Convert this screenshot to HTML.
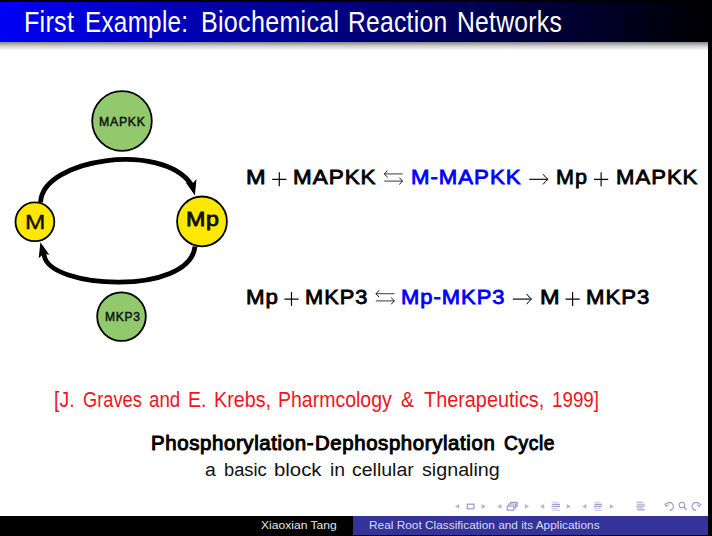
<!DOCTYPE html>
<html><head><meta charset="utf-8">
<style>
html,body{margin:0;padding:0;}
body{width:712px;height:536px;overflow:hidden;position:relative;background:#fff;font-family:"Liberation Sans",sans-serif;}
.w{position:absolute;z-index:2;white-space:nowrap;line-height:1;transform-origin:0 0;font-family:"Liberation Sans",sans-serif;}
#topblack{position:absolute;left:0;top:0;width:712px;height:3.4px;background:linear-gradient(to bottom,#000 0px,#000 1.6px,rgba(0,0,0,0) 3.4px);z-index:1;}
#titlebar{position:absolute;left:0;top:1.6px;width:712px;height:40.2px;z-index:1;background:linear-gradient(to right,#0000f5 0%,#000 100%);}
#shadow{position:absolute;left:0;top:41px;width:708px;height:9.5px;background:linear-gradient(to bottom,#858585 0px,#8a8a8a 1.2px,#cfcfcf 5px,#fff 9.5px);}
#rightblack{position:absolute;left:708px;top:0;width:4px;height:536px;background:#000;}
#foot1{position:absolute;left:0;top:516px;width:712px;height:20px;background:#000;}
#foot2{position:absolute;left:353px;top:516px;width:355px;height:18.6px;background:#333399;}
svg{position:absolute;left:0;top:0;}
</style></head>
<body>
<div id="topblack"></div>
<div id="titlebar"></div>
<div id="shadow"></div>
<div id="foot1"></div>
<div id="foot2"></div>

<svg width="712" height="536" viewBox="0 0 712 536">
  <g fill="none" stroke="#000" stroke-width="4.8">
    <path d="M40.6 202.5 C41.6 158.68, 162.32 141.14, 191.3 184.5 L193.5 187.8"/>
    <path d="M195 246.5 C189.61 295.76, 49.4 289.24, 44.2 255.5 L43.6 251.5"/>
  </g>
  <path d="M194.9 195.4 L196.5 179 L191.6 184.4 L185.6 182.3 Z" fill="#000"/>
  <path d="M40.4 242.3 L49.5 254.9 L44.3 253.3 L38.7 258.2 Z" fill="#000"/>
  <circle cx="122" cy="121" r="29.8" fill="#92c96c" stroke="#000" stroke-width="1.8"/>
  <circle cx="121.5" cy="316.6" r="24.3" fill="#92c96c" stroke="#000" stroke-width="1.8"/>
  <circle cx="34.9" cy="221.8" r="19.4" fill="#ffe800" stroke="#000" stroke-width="1.8"/>
  <circle cx="202" cy="221.4" r="24.9" fill="#ffe800" stroke="#000" stroke-width="1.8"/>
<path d="M272.20 179.30H286.40M279.30 172.30V186.30" stroke="#000" stroke-width="1.15" fill="none"/>
<path d="M384.70 173.90H402.70" stroke="#444" stroke-width="1.05" fill="none"/><path d="M387.40 170.50Q385.80 172.90 384.20 173.90Q385.80 174.90 387.40 177.30" stroke="#000" stroke-width="0.9" fill="none"/><path d="M384.20 181.10H402.20" stroke="#444" stroke-width="1.05" fill="none"/><path d="M399.50 177.70Q401.10 180.10 402.70 181.10Q401.10 182.10 399.50 184.50" stroke="#000" stroke-width="0.9" fill="none"/>
<path d="M529.20 179.30H547.30" stroke="#000" stroke-width="1.15" fill="none"/><path d="M543.10 174.20Q545.50 177.70 548.10 179.30Q545.50 180.90 543.10 184.40" stroke="#000" stroke-width="1.0" fill="none"/>
<path d="M594.00 179.30H608.20M601.10 172.30V186.30" stroke="#000" stroke-width="1.15" fill="none"/>
<path d="M284.40 299.10H298.60M291.50 292.10V306.10" stroke="#000" stroke-width="1.15" fill="none"/>
<path d="M376.30 293.70H394.50" stroke="#444" stroke-width="1.05" fill="none"/><path d="M379.00 290.30Q377.40 292.70 375.80 293.70Q377.40 294.70 379.00 297.10" stroke="#000" stroke-width="0.9" fill="none"/><path d="M375.80 300.90H394.00" stroke="#444" stroke-width="1.05" fill="none"/><path d="M391.30 297.50Q392.90 299.90 394.50 300.90Q392.90 301.90 391.30 304.30" stroke="#000" stroke-width="0.9" fill="none"/>
<path d="M512.80 299.10H530.90" stroke="#000" stroke-width="1.15" fill="none"/><path d="M526.70 294.00Q529.10 297.50 531.70 299.10Q529.10 300.70 526.70 304.20" stroke="#000" stroke-width="1.0" fill="none"/>
<path d="M565.50 299.10H579.70M572.60 292.10V306.10" stroke="#000" stroke-width="1.15" fill="none"/>
<g transform="translate(0,0.8)"><g fill="#b4b4dc" stroke="none">
  <path d="M459.2 503.2 L455 505.6 L459.2 508 Z"/>
  <path d="M481.7 503.2 L485.9 505.6 L481.7 508 Z"/>
  <path d="M501.4 503.2 L497.2 505.6 L501.4 508 Z"/>
  <path d="M525 503.2 L529 505.6 L525 508 Z"/>
  <path d="M544.2 503.2 L540 505.6 L544.2 508 Z"/>
  <path d="M566.7 503.2 L570.9 505.6 L566.7 508 Z"/>
  <path d="M586.4 503.2 L582.2 505.6 L586.4 508 Z"/>
  <path d="M609.8 503.2 L614 505.6 L609.8 508 Z"/>
</g>
<g fill="none" stroke="#9a9ad0" stroke-width="1.2">
  <rect x="467.3" y="503.4" width="6.6" height="4.6"/>
  <rect x="507.3" y="505.2" width="6.6" height="4.2"/>
  <path d="M508.8 505.2V503.2H515.6V507.2H513.9 M510.6 503.2V501.6H517.2V505.4H515.6"/>
</g>
<g><path d="M551.5 501.5H558.5" stroke="#cacae8" stroke-width="1"/><path d="M552.2 503.6H560.0 M551.5 505.6H560.0" stroke="#9e9ed2" stroke-width="1.2"/><path d="M551.5 507.6H558.5 M552.2 509.5H560.0" stroke="#c4c4e4" stroke-width="1"/><path d="M593.8 501.5H600.5" stroke="#cacae8" stroke-width="1"/><path d="M594.5 503.6H602.0 M593.8 505.6H602.0" stroke="#9e9ed2" stroke-width="1.2"/><path d="M593.8 507.6H600.5 M594.5 509.5H602.0" stroke="#c4c4e4" stroke-width="1"/></g><g><path d="M636.3 501.5H643 M637 503.4H644.8 M636.3 505.3H644.8 M636.3 507.2H643 M637 509.1H644.8" stroke="#a6a6d6" stroke-width="1.1"/></g>
<g fill="none" stroke="#9a9ad0" stroke-width="1.1">
  <path d="M666 503.5 A4 4 0 1 1 669.5 509.6"/>
  <path d="M664.6 502.6 L666 505.6 L668.8 503.8"/>
  <circle cx="682" cy="504.2" r="2.8"/>
  <path d="M684 506.2 L686.8 509.2"/>
  <path d="M699.5 503.5 A4 4 0 1 0 696 509.6"/>
  <path d="M701 502.6 L699.5 505.6 L696.8 503.8"/>
</g>
</g>
</svg>
<div class="w" style="left:24.14px;top:8.00px;font-size:28.6px;font-weight:normal;color:#fff;transform:scaleX(0.8782);letter-spacing:0.3px;">First</div>
<div class="w" style="left:84.90px;top:8.00px;font-size:28.6px;font-weight:normal;color:#fff;transform:scaleX(0.8496);letter-spacing:0.3px;">Example:</div>
<div class="w" style="left:201.04px;top:8.00px;font-size:28.6px;font-weight:normal;color:#fff;transform:scaleX(0.8784);letter-spacing:0.3px;">Biochemical</div>
<div class="w" style="left:348.18px;top:8.00px;font-size:28.6px;font-weight:normal;color:#fff;transform:scaleX(0.8622);letter-spacing:0.3px;">Reaction</div>
<div class="w" style="left:457.27px;top:8.00px;font-size:28.6px;font-weight:normal;color:#fff;transform:scaleX(0.8644);letter-spacing:0.3px;">Networks</div>
<div class="w" style="left:245.95px;top:167.00px;font-size:20.4px;font-weight:normal;color:#000;transform:scaleX(1.1533);letter-spacing:0.9px;-webkit-text-stroke:0.8px currentColor;">M</div>
<div class="w" style="left:293.10px;top:167.00px;font-size:20.4px;font-weight:normal;color:#000;transform:scaleX(1.1014);letter-spacing:0.9px;-webkit-text-stroke:0.8px currentColor;">MAPKK</div>
<div class="w" style="left:410.81px;top:167.00px;font-size:20.4px;font-weight:normal;color:#0000ff;transform:scaleX(1.0890);letter-spacing:0.9px;-webkit-text-stroke:0.8px currentColor;">M-MAPKK</div>
<div class="w" style="left:555.84px;top:167.00px;font-size:20.4px;font-weight:normal;color:#000;transform:scaleX(1.0571);letter-spacing:0.9px;-webkit-text-stroke:0.8px currentColor;">Mp</div>
<div class="w" style="left:615.51px;top:167.00px;font-size:20.4px;font-weight:normal;color:#000;transform:scaleX(1.0851);letter-spacing:0.9px;-webkit-text-stroke:0.8px currentColor;">MAPKK</div>
<div class="w" style="left:245.91px;top:287.00px;font-size:20.4px;font-weight:normal;color:#000;transform:scaleX(1.0929);letter-spacing:0.9px;-webkit-text-stroke:0.8px currentColor;">Mp</div>
<div class="w" style="left:304.93px;top:287.00px;font-size:20.4px;font-weight:normal;color:#000;transform:scaleX(1.0702);letter-spacing:0.9px;-webkit-text-stroke:0.8px currentColor;">MKP3</div>
<div class="w" style="left:401.42px;top:287.00px;font-size:20.4px;font-weight:normal;color:#0000ff;transform:scaleX(1.0779);letter-spacing:0.9px;-webkit-text-stroke:0.8px currentColor;">Mp-MKP3</div>
<div class="w" style="left:539.55px;top:287.00px;font-size:20.4px;font-weight:normal;color:#000;transform:scaleX(1.1533);letter-spacing:0.9px;-webkit-text-stroke:0.8px currentColor;">M</div>
<div class="w" style="left:585.91px;top:287.00px;font-size:20.4px;font-weight:normal;color:#000;transform:scaleX(1.0860);letter-spacing:0.9px;-webkit-text-stroke:0.8px currentColor;">MKP3</div>
<div class="w" style="left:54.22px;top:389.00px;font-size:22.0px;font-weight:normal;color:#f0141e;transform:scaleX(0.8848);letter-spacing:0px;">[J.</div>
<div class="w" style="left:82.87px;top:389.00px;font-size:22.0px;font-weight:normal;color:#f0141e;transform:scaleX(0.8304);letter-spacing:0px;">Graves</div>
<div class="w" style="left:148.85px;top:389.00px;font-size:22.0px;font-weight:normal;color:#f0141e;transform:scaleX(0.8514);letter-spacing:0px;">and</div>
<div class="w" style="left:188.36px;top:389.00px;font-size:22.0px;font-weight:normal;color:#f0141e;transform:scaleX(0.8848);letter-spacing:0px;">E.</div>
<div class="w" style="left:214.11px;top:389.00px;font-size:22.0px;font-weight:normal;color:#f0141e;transform:scaleX(0.8967);letter-spacing:0px;">Krebs,</div>
<div class="w" style="left:277.73px;top:389.00px;font-size:22.0px;font-weight:normal;color:#f0141e;transform:scaleX(0.8858);letter-spacing:0px;">Pharmcology</div>
<div class="w" style="left:401.26px;top:389.00px;font-size:22.0px;font-weight:normal;color:#f0141e;transform:scaleX(0.8848);letter-spacing:0px;">&amp;</div>
<div class="w" style="left:423.90px;top:389.00px;font-size:22.0px;font-weight:normal;color:#f0141e;transform:scaleX(0.9023);letter-spacing:0px;">Therapeutics,</div>
<div class="w" style="left:551.89px;top:389.00px;font-size:22.0px;font-weight:normal;color:#f0141e;transform:scaleX(0.8538);letter-spacing:0px;">1999]</div>
<div class="w" style="left:150.77px;top:434.00px;font-size:19.8px;font-weight:normal;color:#000;transform:scaleX(1.0321);letter-spacing:0.6px;-webkit-text-stroke:0.95px currentColor;">Phosphorylation-</div>
<div class="w" style="left:314.77px;top:434.00px;font-size:19.8px;font-weight:normal;color:#000;transform:scaleX(1.0295);letter-spacing:0.6px;-webkit-text-stroke:0.95px currentColor;">Dephosphorylation</div>
<div class="w" style="left:503.70px;top:434.00px;font-size:19.8px;font-weight:normal;color:#000;transform:scaleX(0.9731);letter-spacing:0.6px;-webkit-text-stroke:0.95px currentColor;">Cycle</div>
<div class="w" style="left:204.79px;top:460.00px;font-size:19.2px;font-weight:normal;color:#111;transform:scaleX(1.0102);letter-spacing:0px;">a</div>
<div class="w" style="left:224.05px;top:460.00px;font-size:19.2px;font-weight:normal;color:#111;transform:scaleX(0.9535);letter-spacing:0px;">basic</div>
<div class="w" style="left:274.04px;top:460.00px;font-size:19.2px;font-weight:normal;color:#111;transform:scaleX(1.0614);letter-spacing:0px;">block</div>
<div class="w" style="left:330.07px;top:460.00px;font-size:19.2px;font-weight:normal;color:#111;transform:scaleX(1.0102);letter-spacing:0px;">in</div>
<div class="w" style="left:351.68px;top:460.00px;font-size:19.2px;font-weight:normal;color:#111;transform:scaleX(1.0167);letter-spacing:0px;">cellular</div>
<div class="w" style="left:421.77px;top:460.00px;font-size:19.2px;font-weight:normal;color:#111;transform:scaleX(1.0270);letter-spacing:0px;">signaling</div>
<div class="w" style="left:261.13px;top:520.00px;font-size:11.3px;font-weight:normal;color:#e6e6e6;transform:scaleX(1.0696);letter-spacing:0px;">Xiaoxian Tang</div>
<div class="w" style="left:368.95px;top:520.00px;font-size:11.3px;font-weight:normal;color:#dcdcef;transform:scaleX(1.0493);letter-spacing:0px;">Real Root Classification and its Applications</div>
<div class="w" style="left:98.77px;top:117.00px;font-size:11.9px;font-weight:normal;color:#111;transform:scaleX(1.0349);letter-spacing:0.7px;-webkit-text-stroke:0.45px #111;">MAPKK</div>
<div class="w" style="left:104.68px;top:312.00px;font-size:11.9px;font-weight:normal;color:#111;transform:scaleX(1.0152);letter-spacing:0.7px;-webkit-text-stroke:0.45px #111;">MKP3</div>
<div class="w" style="left:24.71px;top:212.00px;font-size:20.6px;font-weight:normal;color:#111;transform:scaleX(1.1867);letter-spacing:0px;-webkit-text-stroke:0.4px #111;">M</div>
<div class="w" style="left:185.72px;top:210.00px;font-size:19.6px;font-weight:normal;color:#111;transform:scaleX(1.1846);letter-spacing:0.5px;-webkit-text-stroke:0.85px #111;">Mp</div>
<div id="rightblack"></div>
</body></html>
